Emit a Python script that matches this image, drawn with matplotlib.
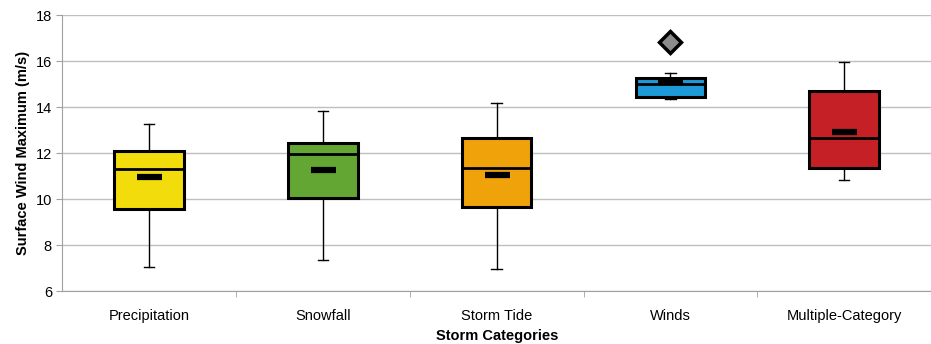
import matplotlib.pyplot as plt

# Données
categories = ['Precipitation', 'Snowfall', 'Storm Tide', 'Winds', 'Multiple-Category']
whisker_low = [7.05, 7.35, 6.95, 14.35, 10.83]
q1 = [9.55, 10.05, 9.65, 14.45, 11.35]
medians = [11.3, 11.95, 11.35, 15.02, 12.65]
q3 = [12.1, 12.45, 12.65, 15.25, 14.7]
whisker_high = [13.25, 13.85, 14.2, 15.47, 15.96]
means = [10.95, 11.25, 11.05, 15.08, 12.91]
outliers = [[], [], [], [16.82], []]
colors = ['#F2DC0C', '#63A633', '#F0A20A', '#1C9BD8', '#C42026']

plt.rcParams['font.family'] = ['Liberation Sans', 'DejaVu Sans']

stats = []
for i, name in enumerate(categories):
    stats.append({'label': name, 'whislo': whisker_low[i], 'q1': q1[i], 'med': medians[i],
                  'q3': q3[i], 'whishi': whisker_high[i], 'mean': means[i], 'fliers': outliers[i]})

fig = plt.figure(figsize=(9.31, 3.44), dpi=100)
ax = fig.add_axes([0.067, 0.154, 0.933, 0.802])

bp = ax.bxp(stats, positions=range(1, 6), widths=0.4, patch_artist=True, showmeans=True,
            boxprops=dict(linewidth=2.2, edgecolor='black'),
            medianprops=dict(color='black', linewidth=2),
            whiskerprops=dict(color='black', linewidth=1),
            capprops=dict(color='black', linewidth=1),
            capwidths=0.06,
            meanprops=dict(marker='_', markersize=18, markeredgewidth=4.5, markeredgecolor='black'),
            flierprops=dict(marker='D', markersize=11, markerfacecolor='#8c8c8c',
                            markeredgecolor='black', markeredgewidth=2.5))
for patch, c in zip(bp['boxes'], colors):
    patch.set_facecolor(c)

ax.set_xlim(0.5, 5.5)
ax.set_ylim(6, 18)
ax.set_yticks(range(6, 19, 2))
ax.yaxis.grid(True, color='#bfbfbf', linewidth=1)
ax.set_axisbelow(True)

# Ticks entre les catégories
ax.set_xticks(range(1, 6))
ax.set_xticklabels(categories, fontsize=10.5)
ax.tick_params(axis='x', length=0, pad=13)
ax.set_xticks([1.5, 2.5, 3.5, 4.5], minor=True)
ax.tick_params(axis='x', which='minor', length=4, color='#a0a0a0')
ax.tick_params(axis='y', labelsize=10.5, length=4, color='#a0a0a0')

for s in ['top', 'right']:
    ax.spines[s].set_visible(False)
ax.spines['left'].set_color('#a0a0a0')
ax.spines['bottom'].set_color('#a0a0a0')

ax.set_xlabel('Storm Categories', fontsize=10.5, fontweight='bold', labelpad=4)
ax.set_ylabel('Surface Wind Maximum (m/s)', fontsize=10.5, fontweight='bold', labelpad=4)

plt.savefig('out.png', dpi=100)
